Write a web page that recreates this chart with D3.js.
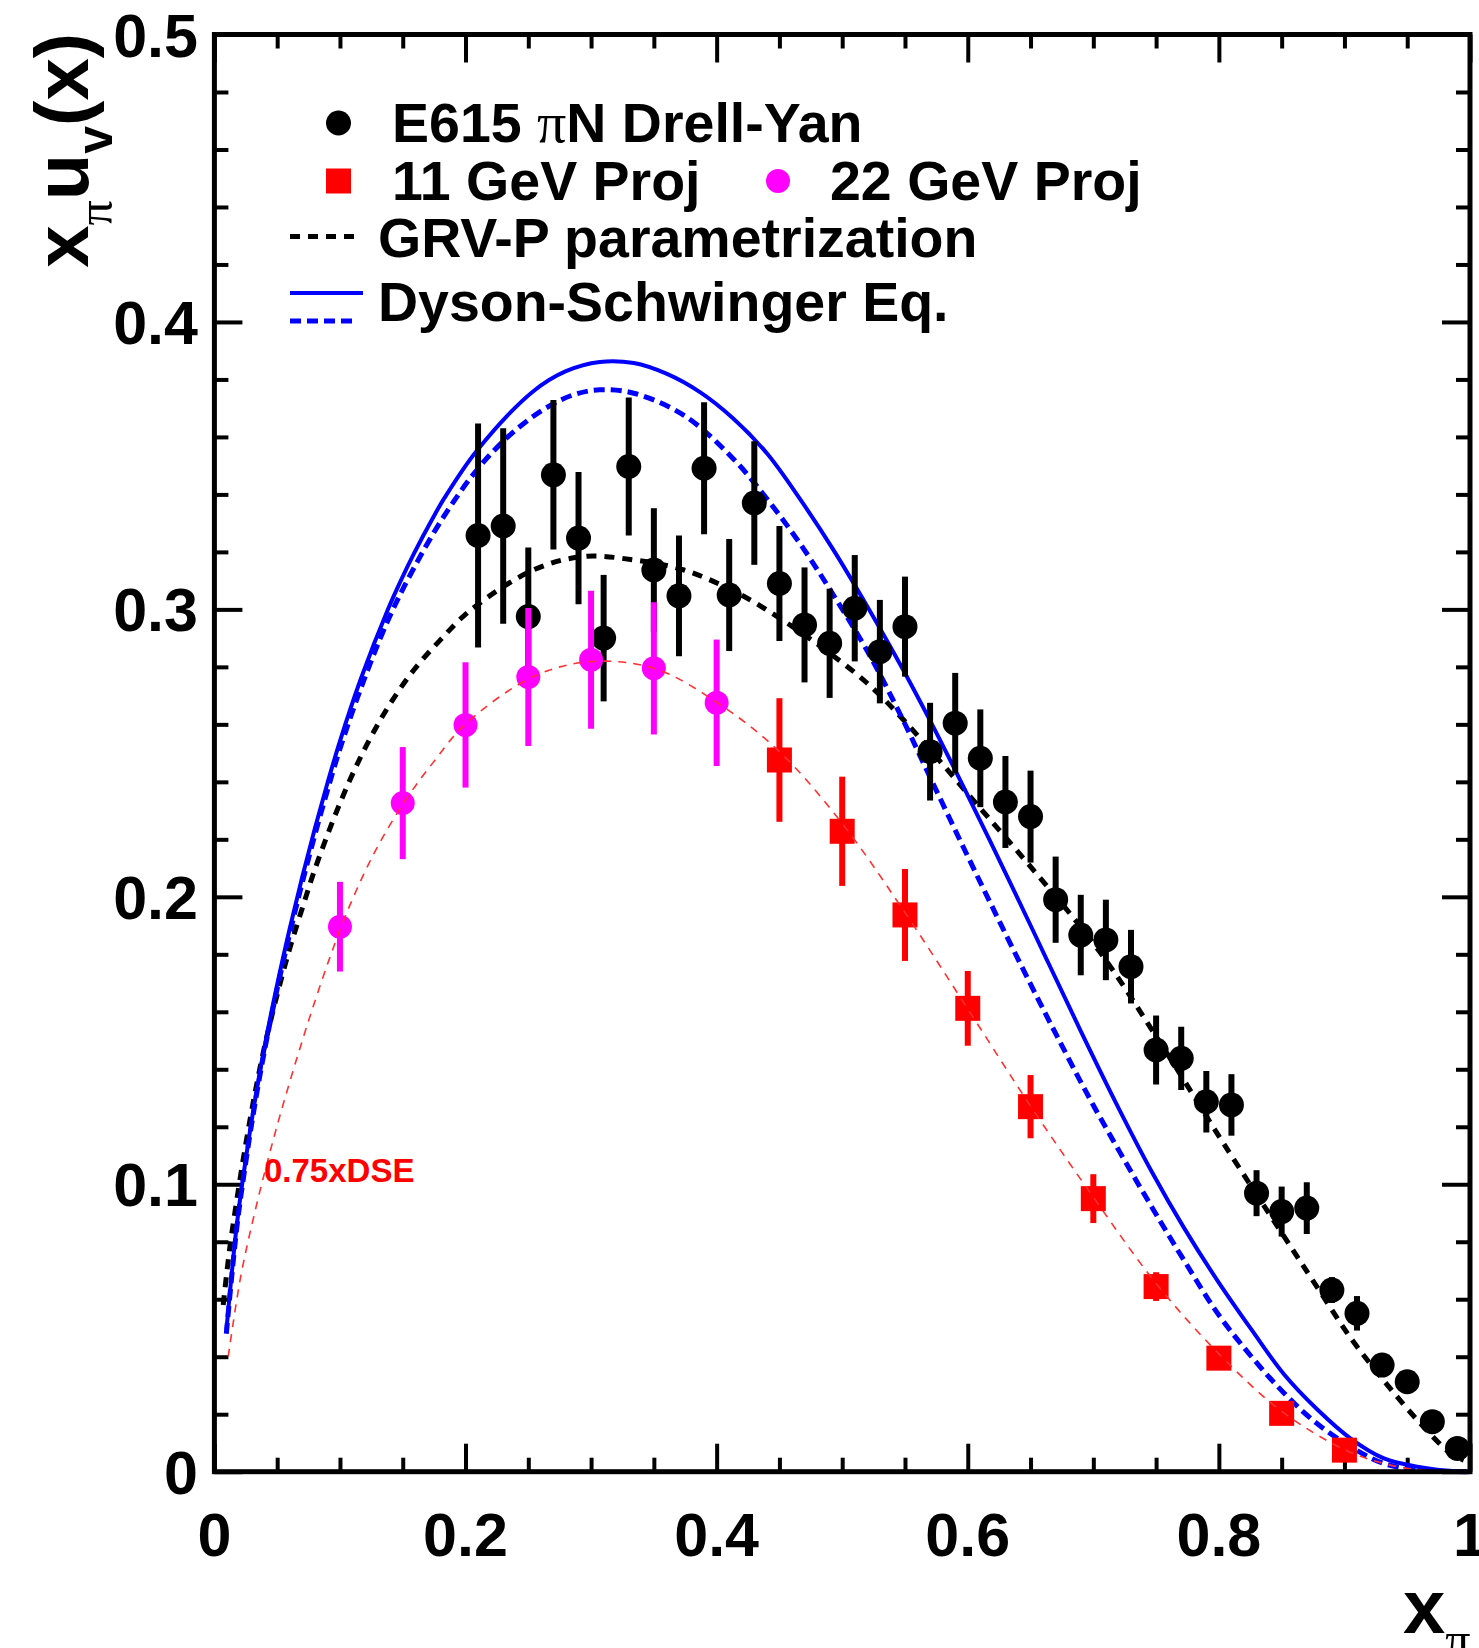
<!DOCTYPE html>
<html><head><meta charset="utf-8">
<script src="https://cdn.jsdelivr.net/npm/d3@7"></script>
<style>body{margin:0;background:#fff}</style>
</head><body>
<svg id="c" width="1479" height="1648"></svg>
<script>
// ---------- data ----------
const e615X = [0.21,0.23,0.25,0.27,0.29,0.31,0.33,0.35,0.37,0.39,0.41,0.43,0.45,0.47,0.49,0.51,0.53,0.55,0.57,0.59,0.61,0.63,0.65,0.67,0.69,0.71,0.73,0.75,0.77,0.79,0.81,0.83,0.85,0.87,0.89,0.91,0.93,0.95,0.97,0.99];
const e615Y = [0.3257,0.329,0.2975,0.3468,0.3248,0.290,0.3497,0.3137,0.3047,0.3491,0.305,0.337,0.309,0.2946,0.2882,0.3004,0.2853,0.294,0.2505,0.2604,0.2482,0.233,0.2279,0.199,0.1867,0.185,0.1757,0.1467,0.1438,0.1287,0.1276,0.0969,0.0905,0.0917,0.0632,0.0551,0.0371,0.0313,0.0174,0.0081];
const e615Err = [0.039,0.034,0.024,0.026,0.023,0.022,0.024,0.0215,0.021,0.023,0.0195,0.0215,0.020,0.020,0.019,0.0185,0.018,0.0174,0.017,0.0175,0.017,0.016,0.016,0.015,0.014,0.014,0.0128,0.012,0.011,0.0107,0.0107,0.008,0.0087,0.009,0.0045,0.006,0.003,0.003,0.002,0.002];

const p22X = [0.10,0.15,0.20,0.25,0.30,0.35,0.40];
const p22Y = [0.1896,0.2326,0.2598,0.2765,0.2825,0.2795,0.2675];
const p22Err = [0.0156,0.0195,0.0218,0.024,0.024,0.023,0.022];

const p11X = [0.45,0.50,0.55,0.60,0.65,0.70,0.75,0.80,0.85,0.90];
const p11Y = [0.2476,0.2228,0.1937,0.1612,0.127,0.095,0.0644,0.0395,0.0203,0.0075];
const p11Err = [0.0215,0.019,0.016,0.013,0.011,0.0085,0.005,0.002,0.001,0.001];

const dseX = [0.0095,0.018,0.025,0.032,0.040,0.050,0.060,0.070,0.080,0.090,0.100,0.117,0.138,0.148,0.159,0.174,0.183,0.209,0.254,0.280,0.307,0.334,0.360,0.387,0.413,0.440,0.467,0.493,0.520,0.546,0.570,0.602,0.637,0.663,0.690,0.720,0.746,0.772,0.799,0.826,0.852,0.878,0.905,0.931,0.958,0.980,1.000];
const dseY = [0.049,0.0864,0.1088,0.1284,0.148,0.1695,0.189,0.207,0.2238,0.2395,0.2542,0.2763,0.2998,0.3096,0.3195,0.3318,0.3386,0.3552,0.3759,0.3829,0.3861,0.3857,0.382,0.3755,0.3665,0.3543,0.338,0.3207,0.301,0.281,0.2613,0.2335,0.202,0.1781,0.1533,0.1266,0.1048,0.085,0.0664,0.0494,0.0338,0.0218,0.0115,0.0047,0.0017,0.0004,0];

const dseDashX = [0.0095,0.018,0.025,0.032,0.040,0.050,0.060,0.070,0.080,0.090,0.100,0.117,0.138,0.159,0.183,0.209,0.235,0.262,0.285,0.307,0.334,0.374,0.413,0.440,0.467,0.493,0.520,0.547,0.570,0.597,0.623,0.650,0.671,0.700,0.746,0.772,0.799,0.826,0.852,0.878,0.905,0.931,0.960,1.0];
const dseDashY = [0.048,0.0855,0.1077,0.1272,0.1467,0.168,0.1872,0.205,0.2215,0.237,0.2515,0.273,0.296,0.3145,0.3325,0.3485,0.3605,0.3695,0.3745,0.3764,0.3752,0.3675,0.3525,0.3385,0.3225,0.305,0.2855,0.2628,0.2416,0.2168,0.1934,0.1696,0.1516,0.1275,0.0925,0.0737,0.0551,0.040,0.0273,0.0168,0.0087,0.0029,0.0006,0];

const grvX = [0.007,0.012,0.018,0.025,0.032,0.040,0.050,0.060,0.0714,0.0794,0.090,0.1006,0.1112,0.1245,0.1405,0.159,0.180,0.2042,0.254,0.294,0.334,0.374,0.413,0.440,0.480,0.520,0.550,0.6096,0.650,0.690,0.716,0.743,0.7667,0.804,0.852,0.878,0.905,0.931,0.958,0.9845,0.995];
const grvY = [0.058,0.077,0.095,0.114,0.131,0.148,0.166,0.182,0.198,0.2088,0.2215,0.2332,0.2438,0.2555,0.2675,0.279,0.2894,0.2998,0.3137,0.3184,0.3172,0.3137,0.3065,0.2998,0.288,0.2743,0.261,0.231,0.2105,0.1895,0.1742,0.1562,0.140,0.114,0.0818,0.0644,0.0465,0.0319,0.018,0.0064,0.004];

const dse75X = [0.011,0.021,0.0316,0.0422,0.0528,0.066,0.0794,0.0927,0.106,0.127,0.151,0.174,0.200,0.254,0.299,0.350,0.401,0.450,0.500,0.550,0.600,0.650,0.700,0.750,0.800,0.850,0.900,0.931,0.960,0.990];
const dse75Y = [0.040,0.068,0.0892,0.1078,0.1248,0.1443,0.1628,0.1798,0.1951,0.215,0.2328,0.2466,0.2601,0.2766,0.2818,0.2795,0.2674,0.2505,0.2255,0.1945,0.161,0.1272,0.0955,0.0655,0.041,0.021,0.0077,0.0029,0.0006,0];

const xMajor = [0,0.2,0.4,0.6,0.8,1];
const xTickLabels = ["0","0.2","0.4","0.6","0.8","1"];
const yMajor = [0,0.1,0.2,0.3,0.4,0.5];
const yTickLabels = ["0","0.1","0.2","0.3","0.4","0.5"];

// ---------- layout ----------
const W = 1479, H = 1648;
const L = 214.4, R = 1470, T = 34.5, B = 1471.7;
const FONT = "'Liberation Sans', Arial, Helvetica, sans-serif";
const SERIF = "'Liberation Serif', 'DejaVu Serif', serif";

const x = d3.scaleLinear().domain([0, 1]).range([L, R]);
const y = d3.scaleLinear().domain([0, 0.5]).range([B, T]);
const svg = d3.select('#c');
svg.append('rect').attr('width', W).attr('height', H).attr('fill', '#fff');

const xMinor = d3.range(0, 1.0001, 0.05).filter(v => xMajor.every(m => Math.abs(m - v) > 1e-6));
const yMinor = d3.range(0, 0.5001, 0.02).filter(v => yMajor.every(m => Math.abs(m - v) > 1e-6));

function ticks(gen, tr, vals, size) {
  svg.append('g').attr('transform', tr)
    .call(gen.tickValues(vals).tickSize(size).tickFormat(''))
    .call(g => { g.select('.domain').remove();
      g.selectAll('line').attr('stroke', '#000').attr('stroke-width', 4); });
}
ticks(d3.axisBottom(x), `translate(0,${B})`, xMajor, -28);
ticks(d3.axisBottom(x), `translate(0,${B})`, xMinor, -14);
ticks(d3.axisTop(x), `translate(0,${T})`, xMajor, -28);
ticks(d3.axisTop(x), `translate(0,${T})`, xMinor, -14);
ticks(d3.axisLeft(y), `translate(${L},0)`, yMajor, -28);
ticks(d3.axisLeft(y), `translate(${L},0)`, yMinor, -14);
ticks(d3.axisRight(y), `translate(${R},0)`, yMajor, -28);
ticks(d3.axisRight(y), `translate(${R},0)`, yMinor, -14);

// tick labels
svg.append('g').selectAll('text').data(xMajor).join('text')
  .attr('x', d => x(d)).attr('y', 1556).attr('text-anchor', 'middle')
  .attr('font-family', FONT).attr('font-weight', 'bold').attr('font-size', 61)
  .text((d, i) => xTickLabels[i]);
svg.append('g').selectAll('text').data(yMajor).join('text')
  .attr('x', 198).attr('y', d => y(d) + 22).attr('text-anchor', 'end')
  .attr('font-family', FONT).attr('font-weight', 'bold').attr('font-size', 61)
  .text((d, i) => yTickLabels[i]);

// curves
const plot = svg.append('g');
function curve(xs, ys, color, width, dash) {
  const pts = xs.map((v, i) => [v, ys[i]]);
  const p = plot.append('path').datum(pts)
    .attr('d', d3.line().x(d => x(d[0])).y(d => y(d[1])).curve(d3.curveCatmullRom.alpha(0.5)))
    .attr('fill', 'none').attr('stroke', color).attr('stroke-width', width);
  if (dash) p.attr('stroke-dasharray', dash);
}
curve(grvX, grvY, '#000', 5, '10,8');
curve(dseDashX, dseDashY, '#0000ff', 5, '11,6');
curve(dseX, dseY, '#0000ff', 4, null);

// data points
function errbars(xs, ys, es, color) {
  plot.append('g').selectAll('line').data(xs).join('line')
    .attr('x1', d => x(d)).attr('x2', d => x(d))
    .attr('y1', (d, i) => y(ys[i] - es[i])).attr('y2', (d, i) => y(ys[i] + es[i]))
    .attr('stroke', color).attr('stroke-width', 6);
}
errbars(e615X, e615Y, e615Err, '#000');
plot.append('g').selectAll('circle').data(e615X).join('circle')
  .attr('cx', d => x(d)).attr('cy', (d, i) => y(e615Y[i])).attr('r', 12.5).attr('fill', '#000');

errbars(p22X, p22Y, p22Err, '#ff00ff');
plot.append('g').selectAll('circle').data(p22X).join('circle')
  .attr('cx', d => x(d)).attr('cy', (d, i) => y(p22Y[i])).attr('r', 12).attr('fill', '#ff00ff');

errbars(p11X, p11Y, p11Err, '#ff0000');
plot.append('g').selectAll('rect').data(p11X).join('rect')
  .attr('x', d => x(d) - 12.5).attr('y', (d, i) => y(p11Y[i]) - 12.5)
  .attr('width', 25).attr('height', 25).attr('fill', '#ff0000');

curve(dse75X, dse75Y, '#ff3030', 1.6, '8,7');

// frame
svg.append('rect').attr('x', L).attr('y', T).attr('width', R - L).attr('height', B - T)
  .attr('fill', 'none').attr('stroke', '#000').attr('stroke-width', 5);

// annotation
svg.append('text').attr('x', 264).attr('y', 1182).attr('fill', '#ff0000')
  .attr('font-family', FONT).attr('font-weight', 'bold').attr('font-size', 33).text('0.75xDSE');

// legend
const lg = svg.append('g').attr('font-family', FONT).attr('font-weight', 'bold').attr('font-size', 55.5);
lg.append('circle').attr('cx', 338.5).attr('cy', 123).attr('r', 12.5).attr('fill', '#000');
const t1 = lg.append('text').attr('x', 392).attr('y', 142);
t1.append('tspan').text('E615 ');
t1.append('tspan').attr('font-family', SERIF).attr('font-weight', 'normal').attr('font-size', 58).text('π');
t1.append('tspan').text('N Drell-Yan');
lg.append('rect').attr('x', 326).attr('y', 168.5).attr('width', 25).attr('height', 25).attr('fill', '#ff0000');
lg.append('text').attr('x', 392).attr('y', 200).text('11 GeV Proj');
lg.append('circle').attr('cx', 778).attr('cy', 181).attr('r', 12).attr('fill', '#ff00ff');
lg.append('text').attr('x', 830).attr('y', 200).text('22 GeV Proj');
lg.append('line').attr('x1', 290).attr('x2', 357).attr('y1', 236.5).attr('y2', 236.5)
  .attr('stroke', '#000').attr('stroke-width', 5).attr('stroke-dasharray', '10,8');
lg.append('text').attr('x', 378).attr('y', 257).text('GRV-P parametrization');
lg.append('line').attr('x1', 290).attr('x2', 363).attr('y1', 293).attr('y2', 293)
  .attr('stroke', '#0000ff').attr('stroke-width', 4);
lg.append('line').attr('x1', 290).attr('x2', 357).attr('y1', 321).attr('y2', 321)
  .attr('stroke', '#0000ff').attr('stroke-width', 5).attr('stroke-dasharray', '11,6');
lg.append('text').attr('x', 378).attr('y', 321).text('Dyson-Schwinger Eq.');

// axis titles
const yt = svg.append('text').attr('transform', 'translate(88,33) rotate(-90)')
  .attr('text-anchor', 'end').attr('font-family', FONT).attr('font-weight', 'bold').attr('font-size', 76);
yt.append('tspan').text('x');
yt.append('tspan').attr('font-family', SERIF).attr('font-weight', 'normal').attr('font-size', 50).attr('dy', 24).text('π');
yt.append('tspan').attr('dy', -24).text('u');
yt.append('tspan').attr('font-size', 50).attr('dy', 24).text('v');
yt.append('tspan').attr('dy', -24).text('(x)');

const xt = svg.append('text').attr('x', 1403).attr('y', 1633)
  .attr('font-family', FONT).attr('font-weight', 'bold').attr('font-size', 76);
xt.append('tspan').text('x');
xt.append('tspan').attr('font-family', SERIF).attr('font-weight', 'normal').attr('font-size', 50).attr('dy', 24).text('π');
</script>
</body></html>
